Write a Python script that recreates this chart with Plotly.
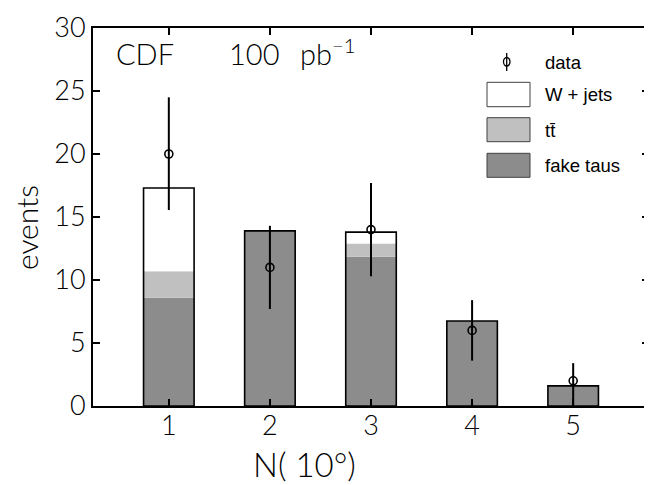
import plotly.graph_objects as go

# ---- data ----
n_bins = [1, 2, 3, 4, 5]
fake_taus = [8.6, 13.9, 11.85, 6.75, 1.6]
ttbar = [2.1, 0.0, 1.05, 0.0, 0.0]
w_jets = [6.6, 0.0, 0.9, 0.0, 0.0]
data_vals = [20, 11, 14, 6, 2]
data_err_up = [4.5, 3.3, 3.7, 2.4, 1.4]
data_err_down = [4.45, 3.3, 3.7, 2.4, 2.0]
y_ticks = [0, 5, 10, 15, 20, 25, 30]
x_ticks = [1, 2, 3, 4, 5]

base_tt = [f for f in fake_taus]
base_w = [f + t for f, t in zip(fake_taus, ttbar)]
total = [f + t + w for f, t, w in zip(fake_taus, ttbar, w_jets)]

BW = 0.5
fig = go.Figure()
fig.add_trace(go.Bar(x=n_bins, y=fake_taus, base=[0] * 5, width=BW,
                     marker=dict(color="#8c8c8c", line=dict(width=0)), showlegend=False))
fig.add_trace(go.Bar(x=n_bins, y=ttbar, base=base_tt, width=BW,
                     marker=dict(color="#c0c0c0", line=dict(width=0)), showlegend=False))
fig.add_trace(go.Bar(x=n_bins, y=w_jets, base=base_w, width=BW,
                     marker=dict(color="#ffffff", line=dict(width=0)), showlegend=False))
fig.add_trace(go.Bar(x=n_bins, y=total, base=[0] * 5, width=BW,
                     marker=dict(color="rgba(0,0,0,0)", line=dict(width=1.6, color="black")),
                     showlegend=False))
fig.add_trace(go.Scatter(x=n_bins, y=data_vals, mode="markers",
                         marker=dict(symbol="circle-open", size=8, color="black",
                                     line=dict(width=1.6, color="black")),
                         error_y=dict(type="data", symmetric=False, array=data_err_up,
                                      arrayminus=data_err_down, width=0, thickness=2,
                                      color="black"),
                         showlegend=False))

tick_font = dict(family="Lato, Open Sans, sans-serif", size=27, color="black", weight=300)
fig.update_layout(
    width=644, height=477,
    margin=dict(l=85, r=3, t=20, b=79, autoexpand=False),
    paper_bgcolor="white", plot_bgcolor="white",
    barmode="overlay",
    xaxis=dict(range=[0.25, 5.75], tickvals=x_ticks, ticktext=[str(v) for v in x_ticks],
               ticks="inside", ticklen=7, tickwidth=2, tickcolor="black",
               showline=True, linewidth=2, linecolor="black", mirror="ticks",
               showgrid=False, zeroline=False, tickfont=tick_font, automargin=False,
               ticklabelstandoff=-5),
    yaxis=dict(range=[0, 30], tickvals=y_ticks, ticktext=[str(v) for v in y_ticks],
               ticks="inside", ticklen=7, tickwidth=2, tickcolor="black",
               showline=True, linewidth=2, linecolor="black", mirror="ticks",
               showgrid=False, zeroline=False, tickfont=tick_font, ticklabelstandoff=0,
               automargin=False),
)

# reference-pixel -> paper coordinates (plot area spans x 93..649, y 28..406)
def px(x):
    return (x - 93) / 556.0

def py(y):
    return (406 - y) / 378.0

big = dict(family="Lato, Open Sans, sans-serif", color="black", weight=300)
ann = []
ann.append(dict(text="CDF", x=px(145), y=py(53), xref="paper", yref="paper", showarrow=False,
                xanchor="center", yanchor="middle", font=dict(size=29, **big)))
ann.append(dict(text="100", x=px(227), y=py(53), xref="paper", yref="paper", showarrow=False,
                xanchor="left", yanchor="middle", font=dict(size=29, **big)))
ann.append(dict(text="pb<sup>−1</sup>", x=px(298), y=py(52), xref="paper", yref="paper",
                showarrow=False, xanchor="left", yanchor="middle", font=dict(size=29, **big)))
ann.append(dict(text="events", x=px(26), y=py(228), xref="paper", yref="paper", showarrow=False,
                xanchor="center", yanchor="middle", textangle=-90, font=dict(size=30, **big)))
ann.append(dict(text="N( 10°)", x=px(304), y=py(464), xref="paper", yref="paper",
                showarrow=False, xanchor="center", yanchor="middle", font=dict(size=33, **big)))

leg_font = dict(family="Liberation Sans, Arial, sans-serif", size=18.5, color="black")
legend_items = [("data", 62), ("W + jets", 95), ("tt\u0304", 130), ("fake taus", 165)]
for txt, yc in legend_items:
    ann.append(dict(text=txt, x=px(543), y=py(yc), xref="paper", yref="paper", showarrow=False,
                    xanchor="left", yanchor="middle", font=leg_font))

shapes = []
boxes = [("#ffffff", 82.3, 106.7), ("#c0c0c0", 117.7, 141.7), ("#8c8c8c", 153.3, 177.3)]
for col, y0, y1 in boxes:
    shapes.append(dict(type="rect", xref="paper", yref="paper", x0=px(487), x1=px(530),
                       y0=py(y1), y1=py(y0), fillcolor=col,
                       line=dict(color="#404040", width=1)))
shapes.append(dict(type="line", xref="paper", yref="paper", x0=px(506.7), x1=px(506.7),
                   y0=py(71), y1=py(53), line=dict(color="black", width=1.3)))
shapes.append(dict(type="circle", xref="paper", yref="paper", x0=px(503.5), x1=px(510),
                   y0=py(66), y1=py(57.5), line=dict(color="black", width=1.3)))

fig.update_layout(annotations=ann, shapes=shapes)
fig.write_html("out.html")
